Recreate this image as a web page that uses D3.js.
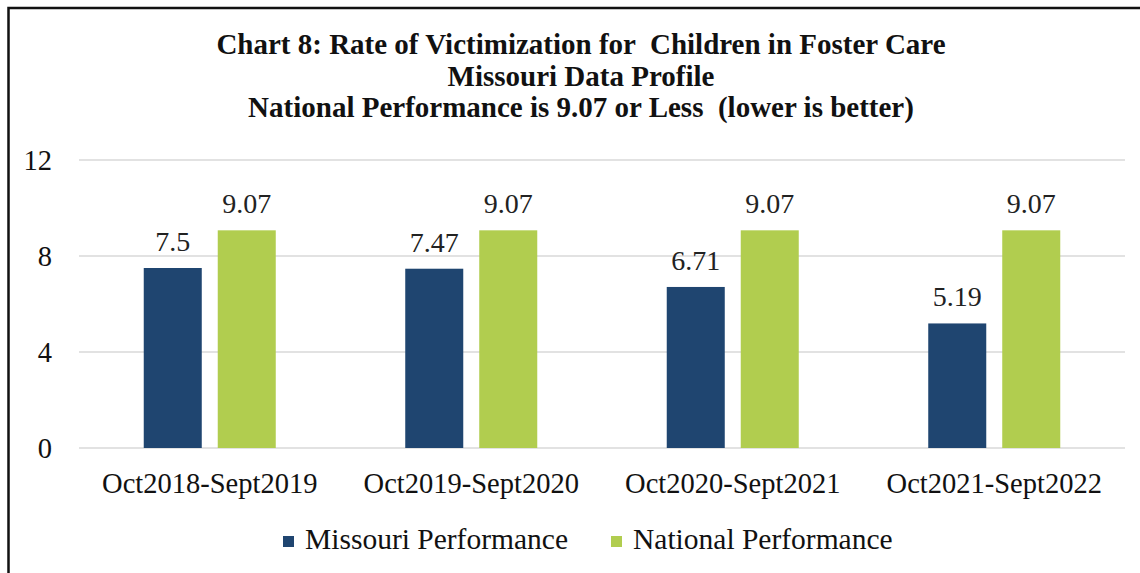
<!DOCTYPE html>
<html>
<head>
<meta charset="utf-8">
<script src="https://cdn.jsdelivr.net/npm/d3@7"></script>
<style>
  body { margin: 0; background: #fff; }
  svg text { font-family: "Liberation Serif", "Times New Roman", serif; }
</style>
</head>
<body>
<div id="chart"></div>
<script>
// data
var categories = ["Oct2018-Sept2019", "Oct2019-Sept2020", "Oct2020-Sept2021", "Oct2021-Sept2022"];
var seriesNames = ["Missouri Performance", "National Performance"];
var missouriValues = [7.5, 7.47, 6.71, 5.19];
var nationalValues = [9.07, 9.07, 9.07, 9.07];
var yTicks = [0, 4, 8, 12];
var titleLines = [
  "Chart 8: Rate of Victimization for  Children in Foster Care",
  "Missouri Data Profile",
  "National Performance is 9.07 or Less  (lower is better)"
];

var width = 1140, height = 573;
var colors = ["#1f4570", "#b1cd4f"];
var serif = "'Liberation Serif', 'Times New Roman', serif";
var labelSize = "28.5px";

var svg = d3.select("#chart")
  .append("svg")
  .attr("width", width)
  .attr("height", height);

// frame (only top and left show in the picture)
svg.append("rect")
  .attr("x", 8.5).attr("y", 8)
  .attr("width", 1200).attr("height", 700)
  .attr("fill", "none")
  .attr("stroke", "#111")
  .attr("stroke-width", 2.5);

// title
svg.append("g").selectAll("text")
  .data(titleLines)
  .enter()
  .append("text")
  .attr("x", 581)
  .attr("y", function(d, i){ return 54 + i * 31.5; })
  .attr("text-anchor", "middle")
  .attr("font-family", serif)
  .attr("font-size", "29px")
  .attr("font-weight", "bold")
  .style("white-space", "pre")
  .attr("fill", "#111")
  .text(function(d){ return d; });

var y = d3.scaleLinear().domain([0, 12]).range([448, 160]);

var x0 = d3.scaleBand()
  .domain(categories)
  .range([79, 1125])
  .padding(0);

var x1 = d3.scaleBand()
  .domain(seriesNames)
  .range([0, x0.bandwidth()])
  .paddingInner(0.216)
  .paddingOuter(0.875);

// gridlines
svg.append("g").selectAll("line")
  .data(yTicks)
  .enter()
  .append("line")
  .attr("x1", 79).attr("x2", 1125)
  .attr("y1", function(d){ return y(d); })
  .attr("y2", function(d){ return y(d); })
  .attr("stroke", "#d9d9d9")
  .attr("stroke-width", 1.5);

// y axis labels
var yAxis = svg.append("g")
  .attr("transform", "translate(62,0)")
  .call(d3.axisLeft(y).tickValues(yTicks).tickSize(0).tickPadding(10));
yAxis.attr("font-family", serif);
yAxis.select(".domain").remove();
yAxis.selectAll("text")
  .attr("font-size", labelSize)
  .attr("fill", "#111");

// bars
var rows = categories.map(function(c, i){
  return [
    { cat: c, key: seriesNames[0], value: missouriValues[i] },
    { cat: c, key: seriesNames[1], value: nationalValues[i] }
  ];
});

var groups = svg.append("g").selectAll("g")
  .data(rows)
  .enter()
  .append("g")
  .attr("transform", function(d){ return "translate(" + x0(d[0].cat) + ",0)"; });

groups.selectAll("rect")
  .data(function(d){ return d; })
  .enter()
  .append("rect")
  .attr("x", function(d){ return x1(d.key); })
  .attr("width", x1.bandwidth())
  .attr("y", function(d){ return y(d.value); })
  .attr("height", function(d){ return y(0) - y(d.value); })
  .attr("fill", function(d, i){ return colors[i]; });

// value labels
groups.selectAll("text")
  .data(function(d){ return d; })
  .enter()
  .append("text")
  .attr("x", function(d){ return x1(d.key) + x1.bandwidth() / 2; })
  .attr("y", function(d){ return y(d.value) - 17; })
  .attr("text-anchor", "middle")
  .attr("font-family", serif)
  .attr("font-size", "28px")
  .attr("fill", "#222")
  .text(function(d){ return d.value; });

// x axis labels
var xAxis = svg.append("g")
  .attr("transform", "translate(0,448)")
  .call(d3.axisBottom(x0).tickSize(0).tickPadding(25));
xAxis.attr("font-family", serif);
xAxis.select(".domain").remove();
xAxis.selectAll("text")
  .attr("font-size", labelSize)
  .attr("fill", "#111");

// legend
var legendX = [283, 611];
var legend = svg.append("g").selectAll("g")
  .data(seriesNames)
  .enter()
  .append("g")
  .attr("transform", function(d, i){ return "translate(" + legendX[i] + ",536)"; });

legend.append("rect")
  .attr("width", 11).attr("height", 11)
  .attr("fill", function(d, i){ return colors[i]; });

legend.append("text")
  .attr("x", 22)
  .attr("y", 13)
  .attr("font-family", serif)
  .attr("font-size", "29.5px")
  .attr("fill", "#111")
  .text(function(d){ return d; });
</script>
</body>
</html>
